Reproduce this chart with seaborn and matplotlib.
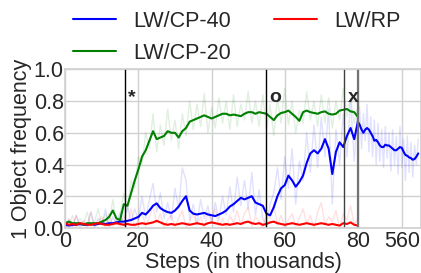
import numpy as np
import pandas as pd
import matplotlib
matplotlib.use("Agg")
import matplotlib.pyplot as plt
import seaborn as sns

# steps (in thousands) for the 0..80k part
steps = list(range(0, 81))

green_smooth = [0.03, 0.04, 0.03, 0.03, 0.03, 0.02, 0.03, 0.03, 0.03, 0.03, 0.04,
                0.05, 0.07, 0.11, 0.06, 0.05, 0.15, 0.14, 0.22, 0.30, 0.37,
                0.45, 0.49, 0.55, 0.61, 0.56, 0.57, 0.58, 0.61, 0.60, 0.60,
                0.57, 0.61, 0.63, 0.67, 0.68, 0.69, 0.70, 0.71, 0.70, 0.69,
                0.70, 0.71, 0.72, 0.72, 0.71, 0.715, 0.71, 0.705, 0.72, 0.73,
                0.73, 0.72, 0.73, 0.725, 0.72, 0.70, 0.68, 0.71, 0.725, 0.73,
                0.74, 0.72, 0.70, 0.675, 0.73, 0.74, 0.73, 0.725, 0.72, 0.73,
                0.735, 0.72, 0.715, 0.72, 0.74, 0.745, 0.75, 0.735, 0.73, 0.70]
green_raw = [0.05, 0.01, 0.08, 0.00, 0.06, 0.02, 0.10, 0.01, 0.04, 0.12, 0.02,
             0.09, 0.03, 0.18, 0.02, 0.08, 0.22, 0.10, 0.30, 0.25, 0.45,
             0.40, 0.60, 0.50, 0.72, 0.48, 0.65, 0.52, 0.75, 0.55, 0.68,
             0.50, 0.72, 0.58, 0.80, 0.62, 0.78, 0.64, 0.85, 0.60, 0.76,
             0.63, 0.82, 0.66, 0.80, 0.62, 0.84, 0.64, 0.78, 0.68, 0.86,
             0.66, 0.80, 0.64, 0.84, 0.62, 0.78, 0.58, 0.82, 0.66, 0.88,
             0.65, 0.80, 0.60, 0.74, 0.66, 0.86, 0.68, 0.80, 0.64, 0.84,
             0.66, 0.82, 0.63, 0.80, 0.68, 0.88, 0.70, 0.82, 0.66, 0.76]

blue_smooth = [0.02, 0.015, 0.02, 0.02, 0.025, 0.02, 0.02, 0.025, 0.02, 0.025, 0.03,
               0.025, 0.03, 0.03, 0.035, 0.04, 0.04, 0.045, 0.05, 0.06, 0.07,
               0.095, 0.085, 0.11, 0.14, 0.155, 0.125, 0.11, 0.10, 0.095, 0.11,
               0.135, 0.17, 0.20, 0.11, 0.09, 0.085, 0.09, 0.095, 0.085, 0.08,
               0.075, 0.085, 0.095, 0.11, 0.135, 0.15, 0.17, 0.19, 0.18, 0.19,
               0.20, 0.16, 0.15, 0.14, 0.09, 0.08, 0.13, 0.20, 0.25, 0.27,
               0.33, 0.30, 0.26, 0.29, 0.33, 0.41, 0.47, 0.49, 0.47, 0.50,
               0.56, 0.50, 0.34, 0.48, 0.54, 0.51, 0.58, 0.63, 0.56, 0.67]
blue_raw = [0.00, 0.05, 0.00, 0.08, 0.01, 0.04, 0.00, 0.10, 0.01, 0.06, 0.02,
            0.12, 0.00, 0.07, 0.03, 0.10, 0.02, 0.14, 0.04, 0.12, 0.05,
            0.20, 0.06, 0.18, 0.28, 0.10, 0.22, 0.06, 0.16, 0.05, 0.25,
            0.12, 0.38, 0.30, 0.05, 0.15, 0.02, 0.18, 0.06, 0.14, 0.03,
            0.16, 0.05, 0.20, 0.08, 0.26, 0.10, 0.32, 0.14, 0.30, 0.12,
            0.35, 0.08, 0.24, 0.06, 0.02, 0.15, 0.22, 0.38, 0.18, 0.45,
            0.25, 0.50, 0.15, 0.42, 0.30, 0.60, 0.35, 0.65, 0.38, 0.70,
            0.45, 0.75, 0.15, 0.62, 0.40, 0.72, 0.45, 0.80, 0.42, 0.78]

# LW/CP-40 keeps training past 80k (compressed part of the axis)
late_steps = list(range(100, 741, 20))
blue_late_smooth = [0.65, 0.62, 0.60, 0.62, 0.63, 0.62, 0.60, 0.58, 0.55, 0.555,
                    0.54, 0.52, 0.51, 0.51, 0.525, 0.52, 0.52, 0.51, 0.50, 0.49,
                    0.49, 0.50, 0.51, 0.505, 0.48, 0.46, 0.455, 0.445, 0.44, 0.43,
                    0.435, 0.45, 0.47]
blue_late_raw = [0.75, 0.50, 0.72, 0.55, 0.78, 0.48, 0.70, 0.45, 0.68, 0.40,
                 0.66, 0.42, 0.62, 0.38, 0.64, 0.44, 0.60, 0.36, 0.62, 0.40,
                 0.58, 0.34, 0.64, 0.38, 0.56, 0.30, 0.58, 0.35, 0.54, 0.32,
                 0.52, 0.40, 0.56]

red_smooth = [0.03, 0.02, 0.025, 0.02, 0.03, 0.025, 0.02, 0.02, 0.025, 0.03, 0.025,
              0.02, 0.02, 0.025, 0.03, 0.025, 0.02, 0.025, 0.02, 0.02, 0.025,
              0.03, 0.025, 0.03, 0.035, 0.045, 0.035, 0.025, 0.02, 0.025, 0.02,
              0.025, 0.03, 0.025, 0.02, 0.025, 0.03, 0.025, 0.02, 0.03, 0.035,
              0.03, 0.025, 0.02, 0.025, 0.02, 0.025, 0.03, 0.025, 0.035, 0.04,
              0.03, 0.025, 0.03, 0.02, 0.025, 0.035, 0.04, 0.03, 0.025, 0.02,
              0.025, 0.03, 0.025, 0.02, 0.025, 0.03, 0.025, 0.02, 0.025, 0.03,
              0.025, 0.02, 0.025, 0.02, 0.015, 0.03, 0.025, 0.035, 0.02, 0.015]
red_raw = [0.00, 0.06, 0.01, 0.08, 0.00, 0.05, 0.02, 0.10, 0.00, 0.04, 0.07,
           0.00, 0.09, 0.01, 0.05, 0.00, 0.08, 0.02, 0.12, 0.00, 0.06,
           0.10, 0.01, 0.07, 0.14, 0.03, 0.09, 0.00, 0.05, 0.08, 0.01,
           0.06, 0.11, 0.00, 0.04, 0.09, 0.02, 0.07, 0.00, 0.10, 0.05,
           0.12, 0.01, 0.06, 0.00, 0.08, 0.03, 0.11, 0.02, 0.09, 0.13,
           0.01, 0.07, 0.04, 0.00, 0.10, 0.06, 0.15, 0.02, 0.08, 0.00,
           0.05, 0.09, 0.01, 0.06, 0.12, 0.03, 0.08, 0.00, 0.10, 0.16,
           0.02, 0.07, 0.04, 0.11, 0.00, 0.09, 0.05, 0.14, 0.02, 0.06]

markers = [("*", 16.2), ("o", 54.8), ("x", 76.2)]
x_ticks = [0, 20, 40, 60, 80, 560]

BREAK = 80
SQUEEZE = 40.0


def fwd(x):
    x = np.asarray(x, dtype=float)
    return np.where(x <= BREAK, x, BREAK + (x - BREAK) / SQUEEZE)


def inv(x):
    x = np.asarray(x, dtype=float)
    return np.where(x <= BREAK, x, BREAK + (x - BREAK) * SQUEEZE)


sns.set_theme(style="whitegrid")
plt.rcParams["font.family"] = ["Liberation Sans", "DejaVu Sans"]
FS = 15.5

fig, ax = plt.subplots(figsize=(4.21, 2.73), dpi=100)
fig.subplots_adjust(left=0.155, right=1.0, top=0.746, bottom=0.165)

blue_df = pd.DataFrame({
    "step": steps + late_steps,
    "smooth": blue_smooth + blue_late_smooth,
    "raw": blue_raw + blue_late_raw,
})
green_df = pd.DataFrame({"step": steps, "smooth": green_smooth, "raw": green_raw})
red_df = pd.DataFrame({"step": steps, "smooth": red_smooth, "raw": red_raw})

series = [
    (blue_df, "blue", "LW/CP-40"),
    (green_df, "green", "LW/CP-20"),
    (red_df, "red", "LW/RP"),
]

for df, col, _ in series:
    sns.lineplot(data=df, x="step", y="raw", ax=ax, color=col, alpha=0.12,
                 linewidth=1.0, label="_nolegend_")
for df, col, name in series:
    sns.lineplot(data=df, x="step", y="smooth", ax=ax, color=col,
                 linewidth=1.5, label=name)

ax.set_xscale("function", functions=(fwd, inv))
ax.set_xlim(0, 770)
ax.set_ylim(0, 1.0)
ax.set_xticks(x_ticks)
ax.set_xticklabels([str(t) for t in x_ticks])
ax.set_yticks([0.0, 0.2, 0.4, 0.6, 0.8, 1.0])
ax.set_yticklabels(["0.0", "0.2", "0.4", "0.6", "0.8", "1.0"])

for (sym, pos), c in zip(markers, ["black", "black", "0.25"]):
    ax.axvline(pos, color=c, linewidth=1.0)
    ax.text(pos + 1.0, 0.82, sym, fontsize=14, fontweight="bold",
            ha="left", va="center")
ax.axvline(80, color="0.45", linewidth=1.6)

ax.tick_params(axis="x", labelsize=FS, pad=2, length=0)
ax.tick_params(axis="y", labelsize=FS, pad=1, length=0)
ax.set_xlabel("Steps (in thousands)", fontsize=FS, labelpad=0)
ax.set_ylabel("1 Object frequency", fontsize=FS, labelpad=1)
ax.grid(color="0.82", linewidth=1.0)
for s in ax.spines.values():
    s.set_color("0.82")

ax.legend(loc="upper left", bbox_to_anchor=(0.173, 0.96),
          bbox_transform=fig.transFigure, ncol=2, frameon=False,
          fontsize=FS, handlelength=2.0, handletextpad=0.8,
          columnspacing=2.0, labelspacing=0.5, borderpad=0, borderaxespad=0)

fig.savefig("out.png", dpi=100)
